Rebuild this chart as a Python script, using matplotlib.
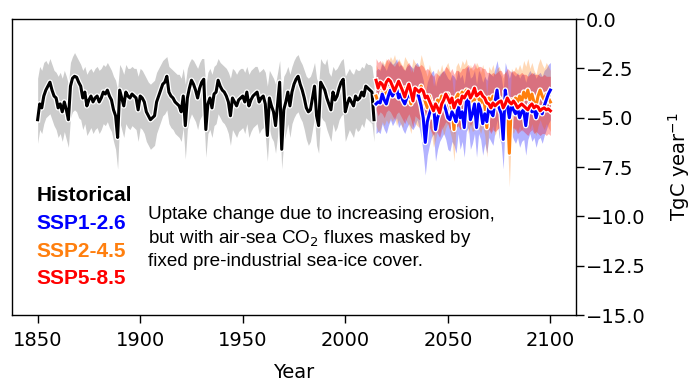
import numpy as np
import matplotlib
matplotlib.use("Agg")
import matplotlib.pyplot as plt
import matplotlib.patheffects as pe

plt.rcParams["font.family"] = ["DejaVu Sans"]

# Historical (1850-2014), TgC per year
hist_years = np.arange(1850, 2015)
hist_mean = [
    -5.1, -4.3, -4.5, -3.9, -3.6, -3.4, -3.2, -3.6, -3.9, -4.0,
    -4.5, -4.3, -4.7, -4.2, -4.6, -5.1, -3.4, -3.0, -2.9, -2.95,
    -3.2, -3.4, -4.0, -3.7, -4.4, -4.1, -3.9, -4.2, -4.0, -3.9,
    -4.2, -4.0, -3.7, -3.8, -3.6, -3.9, -4.1, -4.6, -4.9, -6.0,
    -3.6, -4.0, -4.4, -3.7, -3.9, -4.0, -3.8, -3.9, -4.0, -4.6,
    -3.9, -4.0, -4.2, -4.7, -4.9, -5.1, -5.0, -4.9, -4.2, -3.9,
    -3.6, -3.3, -3.2, -2.9, -3.7, -3.9, -4.0, -4.2, -4.3, -4.4,
    -4.7, -3.9, -5.4, -4.0, -3.5, -3.1, -3.3, -3.6, -4.0, -3.5,
    -3.2, -3.05, -5.6, -4.3, -4.0, -4.5, -3.8, -3.7, -3.1, -3.4,
    -3.6, -3.7, -3.9, -4.2, -4.9, -4.0, -4.2, -4.4, -4.1, -4.0,
    -3.9, -4.2, -3.7, -4.4, -4.1, -3.9, -3.8, -3.7, -4.2, -4.0,
    -3.9, -4.3, -5.9, -4.0, -4.4, -4.7, -5.4, -4.3, -3.2, -6.6,
    -4.6, -4.2, -3.7, -4.4, -3.7, -3.3, -3.05, -2.9, -3.3, -3.6,
    -4.0, -4.5, -4.7, -4.6, -4.0, -3.4, -4.9, -5.4, -3.2, -3.4,
    -3.6, -4.0, -4.3, -4.6, -3.7, -4.1, -3.9, -3.5, -3.2, -3.05,
    -4.7, -4.3, -4.0, -4.2, -4.4, -3.9, -4.1, -4.0, -3.7, -3.9,
    -3.4, -3.5, -3.6, -3.7, -5.1,
]
hist_upper = [
    -3.0, -2.4, -2.6, -2.2, -2.1, -2.3, -2.0, -2.3, -2.6, -2.7,
    -2.9, -2.7, -3.0, -2.6, -2.9, -3.3, -2.2, -1.9, -1.7, -1.9,
    -2.1, -2.3, -2.6, -2.4, -2.8, -2.6, -2.5, -2.7, -2.5, -2.4,
    -2.6, -2.5, -2.3, -2.4, -2.2, -2.4, -2.6, -2.9, -3.1, -3.6,
    -2.3, -2.5, -2.8, -2.3, -2.5, -2.5, -2.4, -2.5, -2.5, -2.9,
    -2.5, -2.6, -2.8, -3.0, -3.2, -3.3, -3.2, -3.1, -2.7, -2.5,
    -2.3, -2.1, -2.0, -1.9, -2.4, -2.5, -2.6, -2.7, -2.8, -2.8,
    -3.0, -2.5, -3.3, -2.5, -2.2, -2.0, -2.1, -2.3, -2.5, -2.2,
    -2.0, -2.0, -3.4, -2.7, -2.5, -2.8, -2.4, -2.3, -2.0, -2.2,
    -2.3, -2.4, -2.5, -2.7, -3.0, -2.5, -2.6, -2.8, -2.6, -2.5,
    -2.5, -2.7, -2.4, -2.8, -2.6, -2.5, -2.4, -2.4, -2.7, -2.6,
    -2.5, -2.7, -3.4, -2.6, -2.8, -3.0, -3.3, -2.7, -2.1, -3.9,
    -2.9, -2.7, -2.4, -2.8, -2.4, -2.1, -1.9, -1.8, -2.1, -2.3,
    -2.6, -2.9, -3.0, -2.9, -2.6, -2.2, -3.0, -3.3, -2.0, -2.2,
    -2.3, -2.0, -2.7, -2.9, -2.4, -2.6, -2.5, -2.3, -2.1, -2.0,
    -2.9, -2.7, -2.5, -2.7, -2.8, -2.5, -2.6, -2.6, -2.4, -2.5,
    -2.2, -2.3, -2.3, -2.4, -3.2,
]
hist_lower = [
    -6.3, -5.6, -5.8, -5.3, -5.0, -4.9, -4.8, -5.1, -5.4, -5.6,
    -6.0, -5.8, -6.2, -5.7, -6.1, -6.5, -5.0, -4.7, -4.6, -4.7,
    -5.0, -5.1, -5.6, -5.3, -5.9, -5.7, -5.5, -5.8, -5.6, -5.5,
    -5.8, -5.6, -5.3, -5.4, -5.2, -5.5, -5.7, -6.2, -6.6, -7.6,
    -5.2, -5.6, -6.0, -5.3, -5.5, -5.6, -5.4, -5.5, -5.6, -6.2,
    -5.5, -5.6, -5.8, -6.2, -6.4, -6.6, -6.5, -6.4, -5.8, -5.5,
    -5.2, -4.9, -4.8, -4.6, -5.3, -5.5, -5.6, -5.8, -5.9, -6.0,
    -6.2, -5.5, -7.1, -5.6, -5.1, -4.8, -5.0, -5.2, -5.6, -5.1,
    -4.9, -4.8, -7.0, -5.8, -5.6, -6.0, -5.4, -5.3, -4.8, -5.0,
    -5.2, -5.3, -5.5, -5.8, -6.4, -5.6, -5.8, -6.0, -5.7, -5.6,
    -5.5, -5.8, -5.3, -6.0, -5.7, -5.5, -5.4, -5.3, -5.8, -5.6,
    -5.5, -5.9, -7.2, -5.6, -6.0, -6.2, -6.8, -5.9, -4.9, -7.6,
    -6.2, -5.8, -5.3, -6.0, -5.3, -5.0, -4.8, -4.7, -5.0, -5.2,
    -5.6, -6.1, -6.4, -6.2, -5.6, -5.0, -6.4, -6.8, -4.9, -5.1,
    -5.2, -5.6, -5.9, -6.2, -5.3, -5.7, -5.5, -5.1, -4.9, -4.8,
    -6.2, -5.9, -5.6, -5.8, -6.0, -5.5, -5.7, -5.6, -5.3, -5.5,
    -5.0, -5.1, -5.2, -5.3, -6.2,
]

# Scenarios (2015-2100)
ssp_years = np.arange(2015, 2101)
ssp126_mean = [
    -4.3, -4.2, -4.25, -3.8, -4.1, -4.3, -3.9, -3.6, -3.9, -3.7,
    -3.5, -4.0, -3.8, -4.1, -4.3, -4.0, -3.8, -4.0, -4.1, -3.9,
    -3.6, -4.0, -4.4, -5.0, -6.25, -5.2, -4.8, -4.5, -4.3, -5.6,
    -5.0, -4.7, -4.5, -4.3, -4.6, -5.0, -5.1, -4.7, -4.9, -5.2,
    -4.3, -5.0, -4.7, -5.5, -4.2, -4.0, -5.1, -4.8, -4.3, -5.5,
    -4.3, -4.6, -5.3, -4.8, -5.2, -4.5, -4.7, -4.9, -4.2, -3.6,
    -4.5, -4.8, -6.1, -3.6, -4.4, -5.0, -4.3, -4.6, -4.8, -4.5,
    -5.0, -4.7, -4.6, -5.4, -4.6, -4.3, -4.7, -4.5, -5.0, -4.6,
    -4.5, -4.8, -4.4, -4.1, -3.8, -3.6,
]
ssp126_upper = [
    -2.6, -2.5, -2.6, -2.2, -2.4, -2.6, -2.3, -2.1, -2.3, -2.2,
    -2.0, -2.4, -2.3, -2.5, -2.6, -2.4, -2.3, -2.4, -2.5, -2.3,
    -2.2, -2.4, -2.7, -3.1, -3.8, -3.2, -2.9, -2.7, -2.6, -3.4,
    -3.0, -2.8, -2.7, -2.6, -2.8, -3.0, -3.1, -2.8, -2.9, -3.1,
    -2.6, -3.0, -2.8, -3.3, -2.5, -2.4, -3.0, -2.9, -2.6, -3.3,
    -2.6, -2.8, -3.2, -2.9, -3.1, -2.7, -2.8, -2.9, -2.5, -2.1,
    -2.7, -2.9, -3.6, -2.2, -2.6, -3.0, -2.6, -2.8, -2.9, -2.7,
    -3.0, -2.8, -2.8, -3.2, -2.8, -2.6, -2.8, -2.7, -3.0, -2.8,
    -2.7, -2.9, -2.6, -2.5, -2.3, -2.2,
]
ssp126_lower = [
    -5.8, -5.7, -5.8, -5.3, -5.6, -5.8, -5.4, -5.1, -5.4, -5.2,
    -5.0, -5.5, -5.3, -5.6, -5.8, -5.5, -5.3, -5.5, -5.6, -5.4,
    -5.1, -5.5, -6.0, -6.8, -7.9, -6.9, -6.4, -6.0, -5.8, -7.2,
    -6.6, -6.2, -6.0, -5.8, -6.1, -6.6, -6.7, -6.2, -6.4, -6.8,
    -5.8, -6.6, -6.2, -7.0, -5.7, -5.5, -6.6, -6.3, -5.8, -7.0,
    -5.8, -6.1, -6.9, -6.3, -6.8, -6.0, -6.2, -6.4, -5.7, -5.1,
    -6.0, -6.3, -7.6, -5.1, -5.9, -6.5, -5.8, -6.1, -6.3, -6.0,
    -6.5, -6.2, -6.1, -6.9, -6.1, -5.8, -6.2, -6.0, -6.5, -6.1,
    -6.0, -6.3, -5.9, -5.6, -5.3, -5.1,
]
ssp245_mean = [
    -3.9, -4.2, -4.1, -3.7, -3.9, -3.6, -3.8, -3.5, -3.7, -3.4,
    -3.9, -3.6, -3.8, -4.0, -3.5, -3.7, -3.9, -4.3, -3.6, -3.8,
    -3.9, -4.0, -3.4, -3.8, -4.2, -4.5, -3.9, -4.3, -5.0, -4.6,
    -4.1, -4.3, -3.9, -4.4, -4.0, -3.8, -4.2, -4.6, -5.6, -4.0,
    -3.8, -4.1, -3.7, -3.9, -3.6, -4.3, -3.9, -4.2, -4.1, -3.8,
    -4.0, -4.3, -3.9, -4.4, -5.5, -4.0, -4.2, -3.9, -4.4, -4.1,
    -4.0, -4.3, -4.6, -4.2, -4.5, -6.8, -4.1, -4.3, -4.0, -4.2,
    -3.9, -4.2, -3.7, -4.0, -3.6, -4.1, -3.8, -4.2, -4.4, -3.9,
    -3.6, -3.9, -4.1, -3.8, -4.0, -4.2,
]
ssp245_upper = [
    -2.3, -2.6, -2.5, -2.1, -2.3, -2.0, -2.2, -1.9, -2.1, -1.8,
    -2.3, -2.0, -2.2, -2.4, -1.9, -2.1, -2.3, -2.7, -2.0, -2.2,
    -2.3, -2.4, -1.8, -2.2, -2.6, -2.9, -2.3, -2.7, -3.4, -3.0,
    -2.5, -2.7, -2.3, -2.8, -2.4, -2.2, -2.6, -3.0, -4.0, -2.4,
    -2.2, -2.5, -2.1, -2.3, -2.0, -2.7, -2.3, -2.6, -2.5, -2.2,
    -2.4, -2.7, -2.3, -2.8, -3.9, -2.4, -2.6, -2.3, -2.8, -2.5,
    -2.4, -2.7, -3.0, -2.6, -2.9, -5.2, -2.5, -2.7, -2.4, -2.6,
    -2.3, -2.6, -2.1, -2.4, -2.0, -2.5, -2.2, -2.6, -2.8, -2.3,
    -2.0, -2.3, -2.5, -2.2, -2.4, -2.6,
]
ssp245_lower = [
    -5.4, -5.7, -5.6, -5.2, -5.4, -5.1, -5.3, -5.0, -5.2, -4.9,
    -5.4, -5.1, -5.3, -5.5, -5.0, -5.2, -5.4, -5.8, -5.1, -5.3,
    -5.4, -5.5, -4.9, -5.3, -5.7, -6.0, -5.4, -5.8, -6.5, -6.1,
    -5.6, -5.8, -5.4, -5.9, -5.5, -5.3, -5.7, -6.1, -7.2, -5.5,
    -5.3, -5.6, -5.2, -5.4, -5.1, -5.8, -5.4, -5.7, -5.6, -5.3,
    -5.5, -5.8, -5.4, -5.9, -7.0, -5.5, -5.7, -5.4, -5.9, -5.6,
    -5.5, -5.8, -6.1, -5.7, -6.0, -8.5, -5.6, -5.8, -5.5, -5.7,
    -5.4, -5.7, -5.2, -5.5, -5.1, -5.6, -5.3, -5.7, -5.9, -5.4,
    -5.1, -5.4, -5.6, -5.3, -5.5, -5.7,
]
ssp585_mean = [
    -3.1, -3.5, -3.2, -3.3, -3.55, -3.2, -3.05, -3.15, -3.4, -3.65,
    -3.4, -3.15, -3.4, -3.65, -3.95, -3.6, -3.3, -3.7, -4.15, -3.5,
    -3.6, -3.7, -3.55, -3.65, -4.0, -3.9, -4.15, -4.4, -4.65, -4.3,
    -4.5, -4.75, -4.3, -4.1, -3.8, -4.0, -4.25, -4.0, -4.5, -4.2,
    -4.1, -4.3, -3.9, -4.0, -3.8, -3.65, -4.0, -3.8, -3.5, -3.9,
    -3.8, -3.7, -3.9, -4.0, -4.25, -4.3, -4.5, -4.25, -4.4, -4.3,
    -4.2, -4.15, -4.5, -4.3, -4.0, -4.2, -4.3, -4.15, -4.3, -4.5,
    -4.4, -4.3, -4.4, -4.5, -4.6, -4.4, -4.3, -4.5, -4.4, -4.45,
    -4.65, -4.55, -4.5, -4.6, -4.55, -4.65,
]
ssp585_upper = [
    -2.0, -2.2, -2.1, -2.3, -2.4, -2.1, -2.0, -2.2, -2.3, -2.4,
    -2.2, -2.1, -2.3, -2.4, -2.6, -2.3, -2.2, -2.4, -2.7, -2.3,
    -2.4, -2.4, -2.3, -2.4, -2.6, -2.5, -2.6, -2.8, -2.9, -2.7,
    -2.8, -2.9, -2.7, -2.6, -2.4, -2.5, -2.7, -2.5, -2.8, -2.6,
    -2.6, -2.7, -2.5, -2.5, -2.4, -2.3, -2.5, -2.4, -2.2, -2.5,
    -2.4, -2.4, -2.5, -2.5, -2.7, -2.7, -2.8, -2.7, -2.8, -2.7,
    -2.6, -2.6, -2.8, -2.7, -2.5, -2.6, -2.7, -2.6, -2.7, -2.8,
    -2.8, -2.7, -2.8, -2.8, -2.9, -2.8, -2.7, -2.8, -2.8, -2.8,
    -2.9, -2.9, -2.8, -2.9, -2.9, -2.9,
]
ssp585_lower = [
    -4.6, -4.9, -4.7, -4.8, -5.0, -4.7, -4.6, -4.7, -4.9, -5.1,
    -4.8, -4.7, -4.9, -5.1, -5.3, -5.0, -4.8, -5.1, -5.5, -4.9,
    -5.0, -5.1, -5.0, -5.1, -5.4, -5.3, -5.5, -5.7, -5.9, -5.6,
    -5.8, -6.0, -5.6, -5.4, -5.2, -5.3, -5.6, -5.4, -5.8, -5.5,
    -5.4, -5.6, -5.3, -5.4, -5.2, -5.1, -5.4, -5.2, -5.0, -5.3,
    -5.2, -5.1, -5.3, -5.4, -5.6, -5.6, -5.8, -5.6, -5.7, -5.6,
    -5.5, -5.5, -5.8, -5.6, -5.3, -5.5, -5.6, -5.5, -5.6, -5.8,
    -5.7, -5.6, -5.7, -5.8, -5.9, -5.7, -5.6, -5.8, -5.7, -5.8,
    -5.9, -5.8, -5.8, -5.9, -5.8, -5.9,
]

scenarios = [
    ("SSP1-2.6", "#0000ff", ssp126_mean, ssp126_lower, ssp126_upper),
    ("SSP2-4.5", "#ff7f0e", ssp245_mean, ssp245_lower, ssp245_upper),
    ("SSP5-8.5", "#ff0000", ssp585_mean, ssp585_lower, ssp585_upper),
]

fig = plt.figure(figsize=(6.94, 3.81), dpi=100)
ax = fig.add_axes([0.0173, 0.173, 0.8127, 0.777])

stroke = [pe.withStroke(linewidth=4.0, foreground="white")]

ax.fill_between(hist_years, hist_lower, hist_upper, color="0.8", lw=0)
ax.plot(hist_years, hist_mean, color="black", lw=2.2, path_effects=stroke)

for name, col, mean, lo, hi in scenarios:
    ax.fill_between(ssp_years, lo, hi, color=col, alpha=0.3, lw=0)

# orange under blue under red
for idx in [1, 0, 2]:
    name, col, mean, lo, hi = scenarios[idx]
    ax.plot(ssp_years, mean, color=col, lw=2.2, path_effects=stroke)

ax.set_ylim(-15, 0)
ax.set_xlim(1837.5, 2112.5)
ax.yaxis.tick_right()
ax.yaxis.set_label_position("right")
ax.set_yticks(np.arange(-15, 0.1, 2.5))
ax.set_xticks([1850, 1900, 1950, 2000, 2050, 2100])
ax.tick_params(labelsize=14, length=5.5, width=1)
ax.tick_params(axis="x", pad=6)
ax.tick_params(axis="y", pad=1.5)
ax.set_xlabel("Year", fontsize=14, labelpad=9)
ax.set_ylabel("TgC year$^{-1}$", fontsize=14, labelpad=15)
for sp in ax.spines.values():
    sp.set_linewidth(1.0)

# label block
lab_y = [0.405, 0.311, 0.216, 0.125]
ax.text(0.044, lab_y[0], "Historical", transform=ax.transAxes, color="black",
        fontsize=15, fontweight="bold", family="Liberation Sans", va="center")
for (name, col, mean, lo, hi), yy in zip(scenarios, lab_y[1:]):
    ax.text(0.044, yy, name, transform=ax.transAxes, color=col,
            fontsize=15, fontweight="bold", family="Liberation Sans", va="center")

ax.text(0.241, 0.26,
        "Uptake change due to increasing erosion,\n"
        "but with air-sea CO$_2$ fluxes masked by\n"
        "fixed pre-industrial sea-ice cover.",
        transform=ax.transAxes, fontsize=13.6, family="Liberation Sans",
        va="center", ha="left", linespacing=1.3)

fig.savefig("out.png", dpi=100)
